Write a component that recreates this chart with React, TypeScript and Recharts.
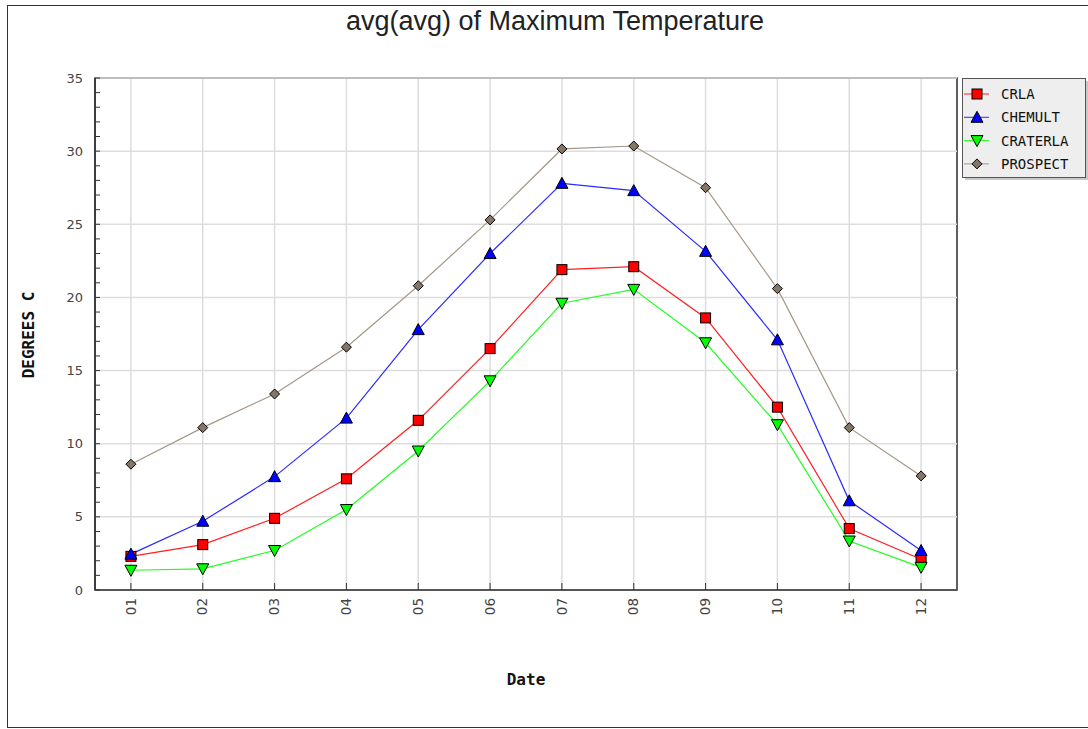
import React from "react";
import { LineChart, Line, XAxis, YAxis, CartesianGrid, ReferenceArea, ReferenceLine } from "recharts";

const months = ["01", "02", "03", "04", "05", "06", "07", "08", "09", "10", "11", "12"];
const crla = [2.3, 3.1, 4.9, 7.6, 11.6, 16.5, 21.9, 22.1, 18.6, 12.5, 4.2, 2.1];
const chemult = [2.45, 4.7, 7.75, 11.75, 17.8, 23.0, 27.8, 27.3, 23.15, 17.1, 6.1, 2.7];
const craterla = [1.35, 1.45, 2.7, 5.5, 9.5, 14.3, 19.6, 20.55, 16.9, 11.3, 3.35, 1.55];
const prospect = [8.6, 11.1, 13.4, 16.6, 20.8, 25.3, 30.15, 30.35, 27.5, 20.6, 11.1, 7.8];

const majorTicks = [0, 5, 10, 15, 20, 25, 30, 35];
const minorTicks = Array.from({ length: 36 }, (_, i) => i);

const data = months.map((m, i) => ({
  month: m,
  CRLA: crla[i],
  CHEMULT: chemult[i],
  CRATERLA: craterla[i],
  PROSPECT: prospect[i],
}));

const series = [
  { key: "CRLA", line: "#ff2020", fill: "#ff0000", shape: "square" },
  { key: "CHEMULT", line: "#2a2aff", fill: "#0000ff", shape: "up" },
  { key: "CRATERLA", line: "#20ff20", fill: "#00ff00", shape: "down" },
  { key: "PROSPECT", line: "#a49787", fill: "#857767", shape: "diamond" },
];

const FONT = "'DejaVu Sans', sans-serif";
const MONO = "'DejaVu Sans Mono', monospace";

function Marker({ cx, cy, shape, fill }: any) {
  if (cx == null || cy == null) return null;
  const s = { fill, stroke: "#000", strokeWidth: 1 };
  if (shape === "square") return <rect x={cx - 5} y={cy - 5} width={10} height={10} {...s} />;
  if (shape === "up")
    return <polygon points={`${cx},${cy - 6} ${cx + 6},${cy + 5} ${cx - 6},${cy + 5}`} {...s} />;
  if (shape === "down")
    return <polygon points={`${cx - 6},${cy - 5} ${cx + 6},${cy - 5} ${cx},${cy + 6}`} {...s} />;
  return <polygon points={`${cx},${cy - 5} ${cx + 5},${cy} ${cx},${cy + 5} ${cx - 5},${cy}`} {...s} />;
}

function YTick({ x, y, payload }: any) {
  const v = payload.value;
  return (
    <g>
      <line x1={x} x2={x + 5} y1={y} y2={y} stroke="#333" />
      {v % 5 === 0 && (
        <text x={x - 12} y={y} dy="0.35em" textAnchor="end" fontSize={13} fill="#444" fontFamily={FONT}>
          {v}
        </text>
      )}
    </g>
  );
}

function XTick({ x, y, payload }: any) {
  return (
    <g>
      <line x1={x} x2={x} y1={y - 7} y2={y} stroke="#333" />
      <text
        transform={`translate(${x},${y + 8}) rotate(-90)`}
        textAnchor="end"
        dy="0.35em"
        fontSize={13.5}
        fill="#444"
        fontFamily={FONT}
      >
        {payload.value}
      </text>
    </g>
  );
}

function LegendBox() {
  return (
    <svg width={128} height={104} style={{ position: "absolute", left: 962, top: 78 }}>
      <rect x={3} y={3} width={123} height={99} fill="#c8c8c8" />
      <rect x={0.5} y={0.5} width={123} height={99} fill="#eeeeee" stroke="#555" />
      {series.map((s, i) => {
        const cy = 16 + i * 23.3;
        return (
          <g key={s.key}>
            <line x1={2} x2={27} y1={cy} y2={cy} stroke={s.line} />
            <Marker cx={15} cy={cy} shape={s.shape} fill={s.fill} />
            <text x={39} y={cy} dy="0.36em" fontSize={14} fill="#111" fontFamily={MONO}>
              {s.key}
            </text>
          </g>
        );
      })}
    </svg>
  );
}

export default function App() {
  return (
    <div style={{ position: "absolute", left: 0, top: 0, width: 1088, height: 729, overflow: "hidden", background: "#fff" }}>
      <div
        style={{
          position: "absolute",
          left: 7,
          top: 5,
          width: 1100,
          height: 721,
          border: "1.5px solid #333",
        }}
      />
      <div
        style={{
          position: "absolute",
          left: 0,
          width: 1110,
          top: 6,
          textAlign: "center",
          fontFamily: "'Liberation Sans', Arial, sans-serif",
          fontSize: 27,
          lineHeight: "31px",
          color: "#222",
        }}
      >
        avg(avg) of Maximum Temperature
      </div>
      <div
        style={{
          position: "absolute",
          left: 28,
          top: 335,
          transform: "translate(-50%, -50%) rotate(-90deg)",
          fontFamily: MONO,
          fontWeight: "bold",
          fontSize: 16,
          whiteSpace: "nowrap",
          color: "#111",
        }}
      >
        DEGREES C
      </div>
      <div
        style={{
          position: "absolute",
          left: 526,
          top: 679,
          transform: "translate(-50%, -50%)",
          fontFamily: MONO,
          fontWeight: "bold",
          fontSize: 16,
          color: "#111",
        }}
      >
        Date
      </div>
      <div style={{ position: "absolute", left: 0, top: 0 }}>
        <LineChart width={1088} height={729} data={data} margin={{ top: 78, right: 131, bottom: 0, left: 0 }}>
          <CartesianGrid stroke="#dddddd" strokeWidth={1.5} horizontal={false} />
          <XAxis
            dataKey="month"
            scale="band"
            height={139}
            tickSize={0}
            tickMargin={0}
            tickLine={false}
            axisLine={{ stroke: "#333", strokeWidth: 1.5 }}
            tick={<XTick />}
            interval={0}
          />
          <YAxis
            domain={[0, 35]}
            ticks={minorTicks}
            width={95}
            tickSize={0}
            tickMargin={0}
            tickLine={false}
            axisLine={{ stroke: "#333", strokeWidth: 1.5 }}
            tick={<YTick />}
            interval={0}
          />
          {majorTicks.map((v) => (
            <ReferenceLine key={v} y={v} stroke="#dddddd" strokeWidth={1.5} />
          ))}
          <ReferenceArea y1={0} y2={35} fill="none" stroke="#333" strokeWidth={1.5} ifOverflow="visible" />
          {series.map((s) => (
            <Line
              key={s.key}
              dataKey={s.key}
              stroke={s.line}
              strokeWidth={1.2}
              isAnimationActive={false}
              dot={(p: any) => <Marker key={`${s.key}-${p.index}`} cx={p.cx} cy={p.cy} shape={s.shape} fill={s.fill} />}
              activeDot={false}
            />
          ))}
        </LineChart>
      </div>
      <LegendBox />
    </div>
  );
}
